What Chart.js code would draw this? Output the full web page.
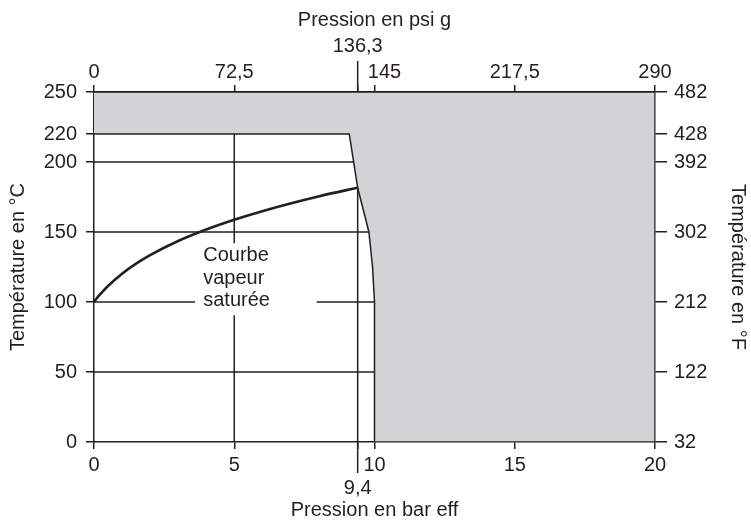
<!DOCTYPE html>
<html lang="fr">
<head>
<meta charset="utf-8">
<title>Courbe vapeur saturée</title>
<script src="https://cdn.jsdelivr.net/npm/chart.js@4.4.1/dist/chart.umd.min.js"></script>
<style>
  html, body { margin: 0; padding: 0; background: #fff; }
  canvas { display: block; }
</style>
</head>
<body>
<canvas id="steamChart" width="751" height="521"></canvas>
<script>
// =========================
// DATA
// =========================
// saturated steam curve : pressure (bar eff) -> temperature (°C)
const steamPressure = [0, 0.1, 0.25, 0.5, 1, 1.5, 2, 3, 4, 5, 6, 7, 8, 9, 9.4];
const steamTemp = [100, 102.7, 106.1, 111.4, 120.2, 127.4, 133.5, 143.6, 151.8, 158.8, 164.9, 170.4, 175.4, 179.9, 181.6];

// edge of the grey zone
const limitPressure = [0, 9.1, 9.4, 9.8, 9.93, 10, 10];
const limitTemp = [220, 220, 181.6, 150, 125, 100, 0];

// tick labels
const barTicks = [0, 5, 9.4, 10, 15, 20];
const psiTicks = [0, 72.5, 136.3, 145, 217.5, 290];
const celsiusTicks = [0, 50, 100, 150, 200, 220, 250];
const fahrenheitTicks = [32, 122, 212, 302, 392, 428, 482];

// inner reference lines
const gridTemps = [50, 100, 150, 200];
const gridPressure = [5];
const curveLabel = ['Courbe', 'vapeur', 'saturée'];

// =========================
// STYLE
// =========================
const ink = '#231f20';
const grey = '#d1d3d4';
const family = '"Liberation Sans", Arial, sans-serif';
const tickFont = { family: family, size: 20 };
const titleFont = { family: family, size: 20, lineHeight: 1 };

// gap left around the curve label (x in bar, y in °C)
const gapX = [3.6, 7.94];
const gapY = [90.5, 142];

const fmt = v => String(v).replace('.', ',');

// =========================
// DATASETS
// =========================
function segment(points, width, order) {
  return {
    data: points,
    showLine: true,
    borderColor: ink,
    borderWidth: width,
    pointRadius: 0,
    fill: false,
    order: order
  };
}

const datasets = [];

// saturated steam curve
datasets.push(Object.assign(
  segment(steamPressure.map((p, i) => ({ x: p, y: steamTemp[i] })), 2.6, 0),
  { cubicInterpolationMode: 'monotone' }
));

// vertical line at the end of the curve
const lastP = steamPressure[steamPressure.length - 1];
const lastT = steamTemp[steamTemp.length - 1];
datasets.push(segment([{ x: lastP, y: 0 }, { x: lastP, y: lastT }], 1.5, 0));

// grey zone (drawn over the reference lines)
const greyZone = [{ x: 0, y: 250 }, { x: 20, y: 250 }, { x: 20, y: 0 }];
for (let i = limitPressure.length - 1; i >= 0; i--) {
  greyZone.push({ x: limitPressure[i], y: limitTemp[i] });
}
datasets.push({
  data: greyZone,
  showLine: true,
  borderColor: ink,
  borderWidth: 1.5,
  backgroundColor: grey,
  pointRadius: 0,
  fill: 'shape',
  order: 1
});

// horizontal reference lines
const edgeP = Math.max(...limitPressure);
gridTemps.forEach(t => {
  if (t === 100) {
    datasets.push(segment([{ x: 0, y: t }, { x: gapX[0], y: t }], 1.5, 2));
    datasets.push(segment([{ x: gapX[1], y: t }, { x: edgeP, y: t }], 1.5, 2));
  } else {
    datasets.push(segment([{ x: 0, y: t }, { x: edgeP, y: t }], 1.5, 2));
  }
});

// vertical reference line at 5 bar
gridPressure.forEach(p => {
  datasets.push(segment([{ x: p, y: 0 }, { x: p, y: gapY[0] }], 1.5, 2));
  datasets.push(segment([{ x: p, y: gapY[1] }, { x: p, y: limitTemp[0] }], 1.5, 2));
});

// =========================
// EXTRA DRAWING (long ticks + curve label)
// =========================
const extras = {
  id: 'extras',
  afterDraw(chart) {
    const { ctx, chartArea, scales } = chart;
    ctx.save();
    ctx.strokeStyle = ink;
    ctx.lineWidth = 1.5;
    ctx.beginPath();
    const xTop = scales.x2.getPixelForValue(psiTicks[2]);
    ctx.moveTo(xTop, chartArea.top);
    ctx.lineTo(xTop, chartArea.top - 31);
    const xBot = scales.x.getPixelForValue(lastP);
    ctx.moveTo(xBot, chartArea.bottom);
    ctx.lineTo(xBot, chartArea.bottom + 31);
    ctx.stroke();

    // label sits left-aligned just left of the 5 bar line
    ctx.fillStyle = ink;
    ctx.font = '20px ' + family;
    ctx.textAlign = 'left';
    ctx.textBaseline = 'alphabetic';
    const lx = scales.x.getPixelForValue(gridPressure[0]) - 31;
    const base = scales.y.getPixelForValue(100) + 4;
    curveLabel.forEach((txt, i) => {
      ctx.fillText(txt, lx, base - (curveLabel.length - 1 - i) * 22.3);
    });
    ctx.restore();
  }
};

// =========================
// CHART
// =========================
function axisGrid(len) {
  return { drawOnChartArea: false, color: ink, lineWidth: 1.5, tickLength: len };
}
const axisBorder = { display: true, color: ink, width: 1.5 };

new Chart(document.getElementById('steamChart').getContext('2d'), {
  type: 'scatter',
  data: { datasets: datasets },
  options: {
    responsive: false,
    animation: false,
    layout: { padding: 0 },
    plugins: { legend: { display: false }, tooltip: { enabled: false } },
    scales: {
      x: {
        type: 'linear', position: 'bottom', min: 0, max: 20, z: 1,
        afterBuildTicks: s => { s.ticks = barTicks.map(v => ({ value: v })); },
        afterFit: s => { s.height = 79; },
        grid: axisGrid(7),
        border: axisBorder,
        ticks: {
          autoSkip: false, maxRotation: 0, padding: 5, color: ink,
          font: Object.assign({}, tickFont, { lineHeight: '23px' }),
          callback: v => (v === lastP ? ['', fmt(v)] : fmt(v))
        },
        title: { display: true, text: 'Pression en bar eff', color: ink, font: titleFont, padding: { top: 0, bottom: 1 } }
      },
      x2: {
        type: 'linear', position: 'top', min: 0, max: 290, z: 1,
        afterBuildTicks: s => { s.ticks = psiTicks.map(v => ({ value: v })); },
        afterFit: s => { s.height = 92; },
        grid: axisGrid(7),
        border: axisBorder,
        ticks: {
          autoSkip: false, maxRotation: 0, padding: 0, color: ink,
          font: Object.assign({}, tickFont, { lineHeight: '26px' }),
          callback: (v, i) => {
            if (v === psiTicks[2]) return [fmt(v), ''];
            // the label next to 136,3 is pushed a little to the right
            if (i === 3) return '\u2002\u2002' + fmt(v);
            return fmt(v);
          }
        },
        title: { display: true, text: 'Pression en psi g', color: ink, font: titleFont, padding: { top: 10, bottom: 0 } }
      },
      y: {
        type: 'linear', position: 'left', min: 0, max: 250, z: 1,
        afterBuildTicks: s => { s.ticks = celsiusTicks.map(v => ({ value: v })); },
        afterFit: s => { s.width = 94; },
        grid: axisGrid(8),
        border: axisBorder,
        ticks: { autoSkip: false, padding: 9, color: ink, font: tickFont, callback: v => fmt(v) },
        title: { display: true, text: 'Température en °C', color: ink, font: titleFont, padding: { top: 8, bottom: 0 } }
      },
      y2: {
        type: 'linear', position: 'right', min: 32, max: 482, z: 1,
        afterBuildTicks: s => { s.ticks = fahrenheitTicks.map(v => ({ value: v })); },
        afterFit: s => { s.width = 96; },
        grid: axisGrid(12),
        border: axisBorder,
        ticks: { autoSkip: false, padding: 7, color: ink, font: tickFont, callback: v => fmt(v) },
        title: { display: true, text: 'Température en °F', color: ink, font: titleFont, padding: { top: 3, bottom: 0 } }
      }
    }
  },
  plugins: [extras]
});
</script>
</body>
</html>
